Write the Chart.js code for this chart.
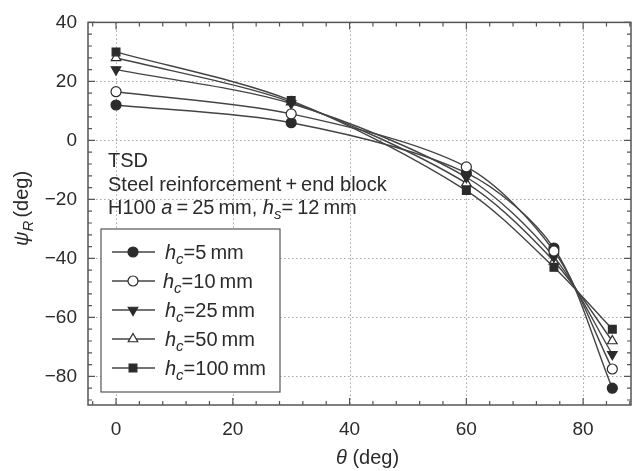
<!DOCTYPE html>
<html>
<head>
<meta charset="utf-8">
<script src="https://cdn.jsdelivr.net/npm/chart.js@4.4.1/dist/chart.umd.min.js"></script>
<style>
  html, body { margin: 0; padding: 0; background: #fff; }
  #wrap { width: 638px; height: 471px; }
</style>
</head>
<body>
<div id="wrap"><canvas id="psiChart" width="638" height="471"></canvas></div>
<script>
const thetaValues = [0, 30, 60, 75, 85];
const hc5 = [12, 6, -11, -36.5, -84];
const hc10 = [16.5, 9, -9, -37.5, -77.5];
const hc25 = [24, 12.5, -12.5, -39.5, -72.5];
const hc50 = [28, 13, -14.5, -41, -68];
const hc100 = [30, 13.5, -17, -43, -64];
const seriesLabels = ["5", "10", "25", "50", "100"];
const xTicks = [0, 20, 40, 60, 80];
const yTicks = [-80, -60, -40, -20, 0, 20, 40];

const ink = "#2b2b2b";
const fontName = "'Liberation Sans', Arial, sans-serif";

const markers = [
  { style: "circle", fill: ink, rot: 0, r: 5, order: 4 },
  { style: "circle", fill: "#fff", rot: 0, r: 5, order: 0 },
  { style: "triangle", fill: ink, rot: 180, r: 5.5, order: 1 },
  { style: "triangle", fill: "#fff", rot: 0, r: 5.5, order: 3 },
  { style: "rect", fill: ink, rot: 0, r: 5.5, order: 2 },
];

function makeSet(values, i) {
  const m = markers[i];
  return {
    label: "hc=" + seriesLabels[i],
    data: thetaValues.map((t, k) => ({ x: t, y: values[k] })),
    order: m.order,
    borderColor: "#444",
    borderWidth: 1.4,
    tension: 0.3,
    pointStyle: m.style,
    rotation: m.rot,
    pointRadius: m.r,
    pointBackgroundColor: m.fill,
    pointBorderColor: ink,
    pointBorderWidth: 1.2,
    fill: false,
  };
}

// dotted grid at the major ticks
const dottedGrid = {
  id: "dottedGrid",
  beforeDatasetsDraw(chart) {
    const ctx = chart.ctx;
    const a = chart.chartArea;
    ctx.save();
    ctx.strokeStyle = "#a5a5a5";
    ctx.lineWidth = 1;
    ctx.setLineDash([1.5, 2.5]);
    ctx.beginPath();
    xTicks.forEach(v => {
      const px = Math.round(chart.scales.x.getPixelForValue(v)) + 0.5;
      ctx.moveTo(px, a.top); ctx.lineTo(px, a.bottom);
    });
    yTicks.forEach(v => {
      const py = Math.round(chart.scales.y.getPixelForValue(v)) + 0.5;
      ctx.moveTo(a.left, py); ctx.lineTo(a.right, py);
    });
    ctx.stroke();
    ctx.restore();
  },
};

const frameAndText = {
  id: "frameAndText",
  afterDraw(chart) {
    const ctx = chart.ctx;
    const a = chart.chartArea;
    const xs = chart.scales.x;
    const ys = chart.scales.y;
    ctx.save();

    // frame
    ctx.strokeStyle = "#555";
    ctx.lineWidth = 1.5;
    ctx.strokeRect(a.left, a.top, a.right - a.left, a.bottom - a.top);

    // inward ticks on all sides
    ctx.lineWidth = 1.2;
    ctx.beginPath();
    for (let v = -4; v <= 88; v += 4) {
      const px = xs.getPixelForValue(v);
      if (px < a.left || px > a.right) continue;
      const len = v % 20 === 0 ? 7 : 4;
      ctx.moveTo(px, a.bottom); ctx.lineTo(px, a.bottom - len);
      ctx.moveTo(px, a.top); ctx.lineTo(px, a.top + len);
    }
    for (let v = -88; v <= 40; v += 4) {
      const py = ys.getPixelForValue(v);
      if (py < a.top - 0.5 || py > a.bottom) continue;
      const len = v % 20 === 0 ? 7 : 4;
      ctx.moveTo(a.left, py); ctx.lineTo(a.left + len, py);
      ctx.moveTo(a.right, py); ctx.lineTo(a.right - len, py);
    }
    ctx.stroke();

    ctx.fillStyle = ink;
    ctx.textBaseline = "alphabetic";
    ctx.textAlign = "left";

    // annotation
    const big = "20px " + fontName;
    const bigI = "italic 20px " + fontName;
    const sub = "italic 15px " + fontName;
    ctx.font = big;
    ctx.fillText("TSD", 108, 167);
    ctx.fillText("Steel reinforcement\u2009+\u2009end block", 108, 191);
    let x = 108;
    const y3 = 214;
    const parts = [
      [big, "H100 ", 0], [bigI, "a", 0], [big, "\u2009=\u200925\u2009mm, ", 0],
      [bigI, "h", 0], [sub, "s", 5], [big, "=\u200912\u2009mm", 0],
    ];
    parts.forEach(p => {
      ctx.font = p[0];
      ctx.fillText(p[1], x, y3 + p[2]);
      x += ctx.measureText(p[1]).width;
    });

    // legend box
    ctx.fillStyle = "#fff";
    ctx.fillRect(101, 229, 179, 163);
    ctx.strokeStyle = "#555";
    ctx.lineWidth = 1.2;
    ctx.strokeRect(101, 229, 179, 163);
    seriesLabels.forEach((lab, i) => {
      const cy = 252 + i * 29;
      ctx.strokeStyle = "#444";
      ctx.lineWidth = 1.4;
      ctx.beginPath();
      ctx.moveTo(112, cy); ctx.lineTo(155, cy);
      ctx.stroke();
      const m = markers[i];
      ctx.fillStyle = m.fill;
      ctx.strokeStyle = ink;
      ctx.lineWidth = 1.2;
      Chart.helpers.drawPoint(ctx, { pointStyle: m.style, rotation: m.rot, radius: m.r, borderWidth: 1.2 }, 133, cy);
      ctx.fillStyle = ink;
      let lx = i === 1 ? 163 : 165;
      const by = cy + 7;
      ctx.font = bigI;
      ctx.fillText("h", lx, by);
      lx += ctx.measureText("h").width;
      ctx.font = sub;
      ctx.fillText("c", lx, by + 5);
      lx += ctx.measureText("c").width;
      ctx.font = big;
      ctx.fillText("=" + lab + "\u2009mm", lx, by);
    });

    // axis titles
    ctx.font = bigI;
    let tx = 336;
    ctx.fillText("θ", tx, 464);
    tx += ctx.measureText("θ ").width;
    ctx.font = big;
    ctx.fillText("(deg)", tx, 464);

    ctx.save();
    ctx.translate(28, 246);
    ctx.rotate(-Math.PI / 2);
    let ty = 0;
    ctx.font = bigI;
    ctx.fillText("ψ", ty, 0);
    ty += ctx.measureText("ψ").width;
    ctx.font = sub;
    ctx.fillText("R", ty, 5);
    ty += ctx.measureText("R").width + 3;
    ctx.font = big;
    ctx.fillText("(deg)", ty, 0);
    ctx.restore();

    ctx.restore();
  },
};

new Chart(document.getElementById("psiChart"), {
  type: "line",
  data: {
    datasets: [hc5, hc10, hc25, hc50, hc100].map(makeSet),
  },
  options: {
    responsive: false,
    animation: false,
    layout: { padding: { top: 16, right: 7, left: 0, bottom: 0 } },
    plugins: { legend: { display: false }, tooltip: { enabled: false } },
    scales: {
      x: {
        type: "linear",
        min: -4.8,
        max: 88.2,
        afterBuildTicks: (s) => { s.ticks = xTicks.map(v => ({ value: v })); },
        afterFit: (s) => { s.height = 66; },
        grid: { display: false, drawTicks: false },
        border: { display: false },
        ticks: {
          padding: 13,
          color: ink,
          font: { family: fontName, size: 19 },
          maxRotation: 0,
        },
      },
      y: {
        type: "linear",
        min: -89.7,
        max: 40,
        afterBuildTicks: (s) => { s.ticks = yTicks.map(v => ({ value: v })); },
        afterFit: (s) => { s.width = 88; },
        grid: { display: false, drawTicks: false },
        border: { display: false },
        ticks: {
          padding: 11,
          color: ink,
          font: { family: fontName, size: 19 },
          callback: (v) => (v < 0 ? "\u2212" + Math.abs(v) : String(v)),
        },
      },
    },
  },
  plugins: [dottedGrid, frameAndText],
});
</script>
</body>
</html>
